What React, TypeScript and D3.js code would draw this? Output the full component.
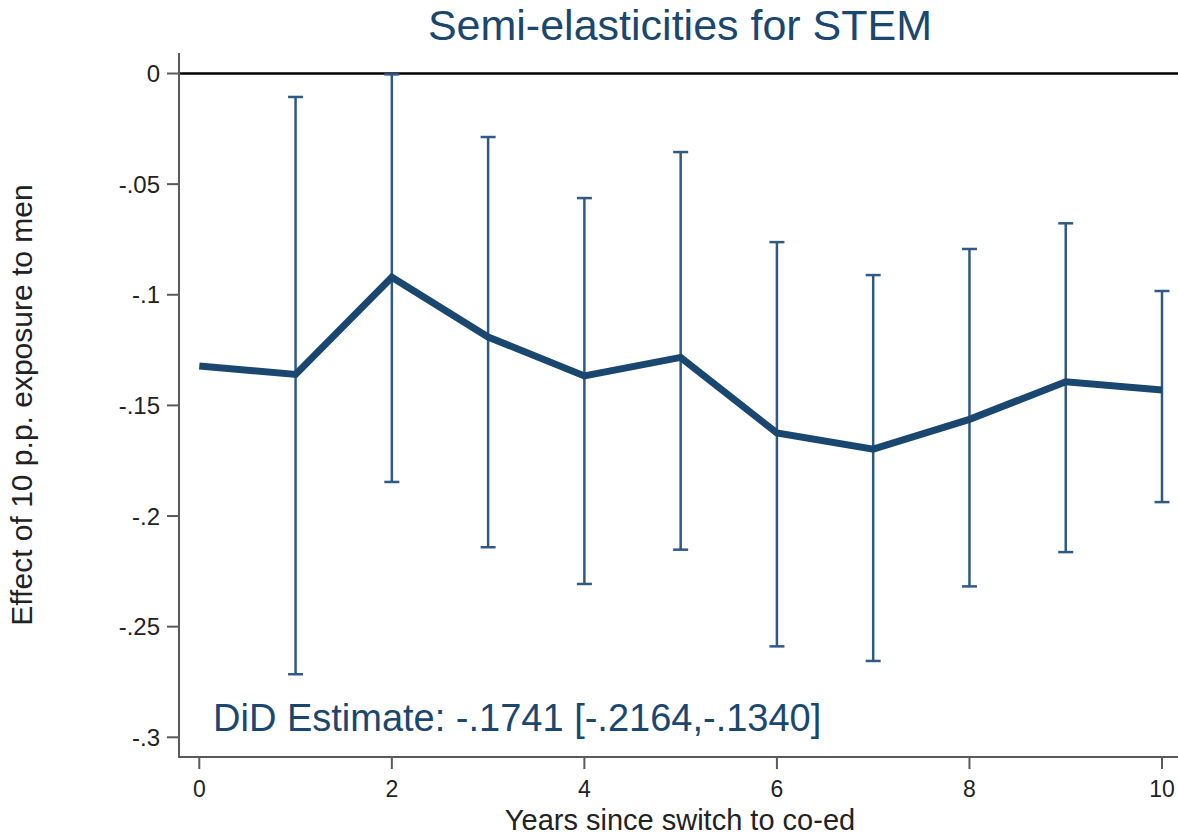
import React from "react";
import * as d3 from "d3";

// Event-study coefficients: years since the school switched to co-ed
const years = [0, 1, 2, 3, 4, 5, 6, 7, 8, 9, 10];
const estimate = [-0.1322, -0.136, -0.0921, -0.1191, -0.1367, -0.1283, -0.1625, -0.1698, -0.1563, -0.1393, -0.143];
// 95% confidence bounds (year 0 has none)
const ciLow = [null, -0.2715, -0.1846, -0.2141, -0.2307, -0.2152, -0.2589, -0.2655, -0.2318, -0.2163, -0.1937];
const ciHigh = [null, -0.0106, -0.0004, -0.0287, -0.0563, -0.0355, -0.0762, -0.0911, -0.0793, -0.0677, -0.0983];

const yTicks = [0, -0.05, -0.1, -0.15, -0.2, -0.25, -0.3];
const yTickLabels = ["0", "-.05", "-.1", "-.15", "-.2", "-.25", "-.3"];
const xTicks = [0, 2, 4, 6, 8, 10];

const title = "Semi-elasticities for STEM";
const xTitle = "Years since switch to co-ed";
const yTitle = "Effect of 10 p.p. exposure to men";
const didNote = "DiD Estimate: -.1741 [-.2164,-.1340]";

const W = 1178;
const H = 837;
const NAVY = "#1a476f";
const BAR = "#2f5a84";
const AXIS = "#5a5a5a";
const FONT = "'Liberation Sans', Arial, Helvetica, sans-serif";

export default function App() {
  const x = d3.scaleLinear().domain([0, 10]).range([199.3, 1162]);
  const y = d3.scaleLinear().domain([0, -0.3]).range([73.5, 737.3]);

  const plotLeft = 179;
  const plotBottom = 757;
  const plotTop = y(0.0093);
  const plotRight = W + 5;

  const line = d3
    .line<number>()
    .x((_, i) => x(years[i]))
    .y((d) => y(d));

  const capHalf = 7.5;

  return (
    <svg
      width={W}
      height={H}
      viewBox={`0 0 ${W} ${H}`}
      style={{ position: "absolute", left: 0, top: 0, background: "#fff" }}
      fontFamily={FONT}
    >
      <rect x={0} y={0} width={W} height={H} fill="#fff" />

      {/* title */}
      <text x={680} y={40} textAnchor="middle" fontSize={43} fill={NAVY}>
        {title}
      </text>

      {/* zero reference line */}
      <line x1={plotLeft} x2={plotRight} y1={y(0)} y2={y(0)} stroke="#000" strokeWidth={2.5} />

      {/* axes */}
      <line x1={plotLeft} x2={plotLeft} y1={plotTop} y2={plotBottom} stroke={AXIS} strokeWidth={2} />
      <line x1={plotLeft - 1} x2={plotRight} y1={plotBottom} y2={plotBottom} stroke={AXIS} strokeWidth={2} />

      {/* y ticks */}
      {yTicks.map((t, i) => (
        <g key={`yt${i}`}>
          <line x1={plotLeft - 12} x2={plotLeft} y1={y(t)} y2={y(t)} stroke={AXIS} strokeWidth={2} />
          <text x={160} y={y(t) + 8.5} textAnchor="end" fontSize={24} fill="#222">
            {yTickLabels[i]}
          </text>
        </g>
      ))}

      {/* x ticks */}
      {xTicks.map((t) => (
        <g key={`xt${t}`}>
          <line x1={x(t)} x2={x(t)} y1={plotBottom} y2={plotBottom + 12} stroke={AXIS} strokeWidth={2} />
          <text x={x(t)} y={797} textAnchor="middle" fontSize={23} fill="#222">
            {t}
          </text>
        </g>
      ))}

      {/* axis titles */}
      <text x={680} y={830} textAnchor="middle" fontSize={29} fill="#222">
        {xTitle}
      </text>
      <text
        transform={`translate(32, 405) rotate(-90)`}
        textAnchor="middle"
        fontSize={30}
        fill="#222"
      >
        {yTitle}
      </text>

      {/* confidence intervals */}
      {years.map((yr, i) => {
        const lo = ciLow[i];
        const hi = ciHigh[i];
        if (lo == null || hi == null) return null;
        const cx = x(yr);
        return (
          <g key={`ci${yr}`} stroke={BAR} strokeWidth={2.5}>
            <line x1={cx} x2={cx} y1={y(hi)} y2={y(lo)} />
            <line x1={cx - capHalf} x2={cx + capHalf} y1={y(hi)} y2={y(hi)} />
            <line x1={cx - capHalf} x2={cx + capHalf} y1={y(lo)} y2={y(lo)} />
          </g>
        );
      })}

      {/* point estimates */}
      <path d={line(estimate) ?? ""} fill="none" stroke={NAVY} strokeWidth={7} strokeLinejoin="miter" />

      {/* DiD summary */}
      <text x={213} y={731} fontSize={38} fill={NAVY}>
        {didNote}
      </text>
    </svg>
  );
}
